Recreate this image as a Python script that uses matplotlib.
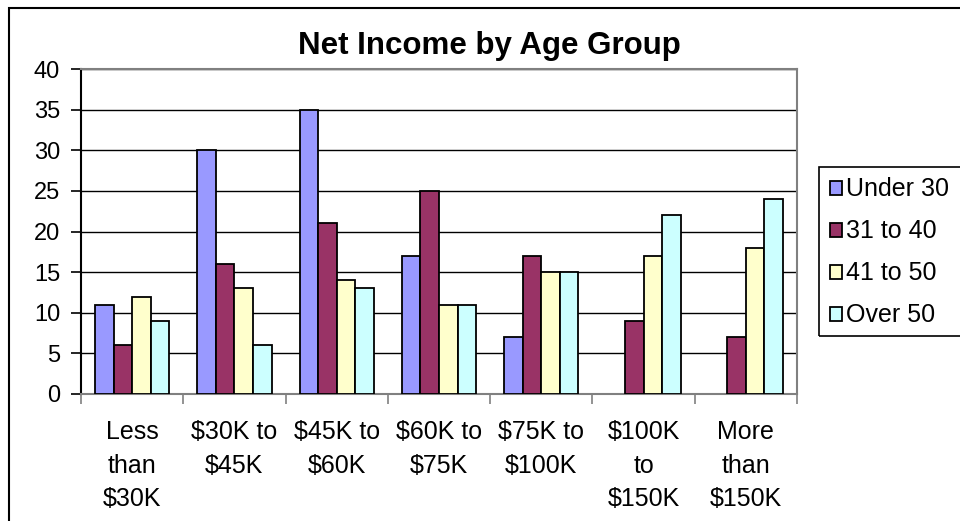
import numpy as np
import matplotlib
matplotlib.use("Agg")
import matplotlib.pyplot as plt
from matplotlib.patches import Rectangle

# data
categories = ["Less\nthan\n$30K", "$30K to\n$45K", "$45K to\n$60K", "$60K to\n$75K",
              "$75K to\n$100K", "$100K\nto\n$150K", "More\nthan\n$150K"]
series_names = ["Under 30", "31 to 40", "41 to 50", "Over 50"]
under_30 = [11, 30, 35, 17, 7, 0, 0]
age_31_40 = [6, 16, 21, 25, 17, 9, 7]
age_41_50 = [12, 13, 14, 11, 15, 17, 18]
over_50 = [9, 6, 13, 11, 15, 22, 24]
colors = ["#9999FF", "#993366", "#FFFFCC", "#CCFFFF"]

plt.rcParams["font.family"] = ["Liberation Sans", "DejaVu Sans"]

fig = plt.figure(figsize=(9.6, 5.21), dpi=100)
ax = fig.add_axes([81 / 960, 1 - 394 / 521, 716 / 960, 325 / 521])

x = np.arange(len(categories))
w = 1 / 5.5
for i, vals in enumerate([under_30, age_31_40, age_41_50, over_50]):
    bars = ax.bar(x + (i - 1.5) * w, vals, width=w, color=colors[i], edgecolor="black",
                  linewidth=1.3, label=series_names[i], zorder=3)
    # zero-height bars should not leave a black stub on the axis
    for b in bars:
        if b.get_height() == 0:
            b.set_visible(False)

ax.set_xlim(-0.5, len(categories) - 0.5)
ax.set_ylim(0, 40)
ax.set_yticks(range(0, 41, 5))
ax.grid(axis="y", color="black", linewidth=1, zorder=0)

ax.set_xticks(x)
ax.set_xticklabels(categories, fontsize=18, linespacing=1.5)
ax.set_xticks(np.arange(-0.5, len(categories)), minor=True)
ax.tick_params(axis="x", which="major", length=0, pad=19)
ax.tick_params(axis="x", which="minor", length=7, width=1.2, color="#808080")
ax.tick_params(axis="y", labelsize=17, length=7, width=1.2, pad=8)

for s in ["top", "right", "bottom"]:
    ax.spines[s].set_color("#808080")
    ax.spines[s].set_linewidth(1.5)
ax.spines["left"].set_color("black")
ax.spines["left"].set_linewidth(1.5)

fig.text(489 / 960, 1 - 54 / 521, "Net Income by Age Group", fontsize=22.5,
         fontweight="bold", ha="center", va="baseline")

leg = fig.legend(loc="upper left", bbox_to_anchor=(822 / 960, 1 - 170 / 521),
                 fontsize=18, frameon=False, borderaxespad=0,
                 handlelength=0.5, handleheight=0.5, handletextpad=0.15,
                 labelspacing=0.72, borderpad=0.3)

# legend box and outer chart border both run off the right edge
fig.patches.append(Rectangle((819 / 960, 1 - 336 / 521), 0.3, 169 / 521,
                             transform=fig.transFigure, fill=False,
                             edgecolor="black", linewidth=1.2))
fig.patches.append(Rectangle((9 / 960, -0.1), 1.2, 1.1 - 8 / 521, transform=fig.transFigure,
                             fill=False, edgecolor="black", linewidth=1.5))

fig.savefig("out.png", dpi=100)
